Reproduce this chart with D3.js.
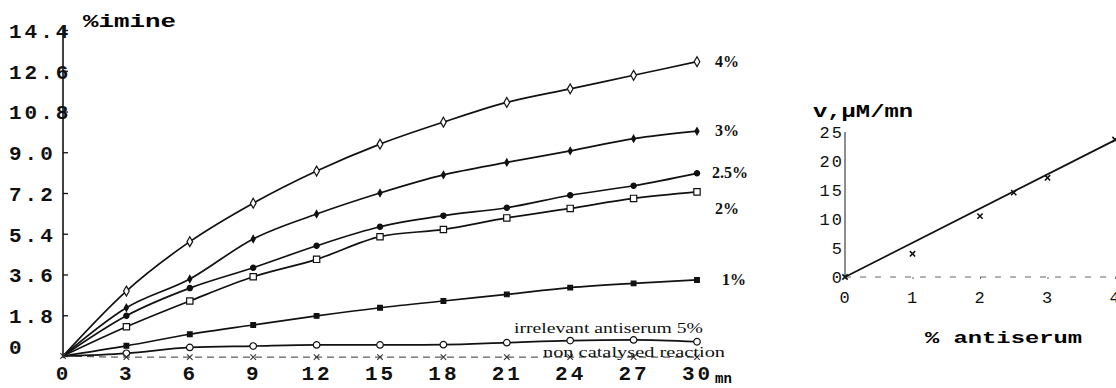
<!DOCTYPE html>
<meta charset="utf-8">
<style>
body { margin: 0; background: #fff; }
svg { display: block; }
.tickL text { font-family: "Liberation Mono", monospace; font-weight: bold; font-size: 21px; letter-spacing: 3px; fill: #111; }
.tickR text { font-family: "Liberation Mono", monospace; font-size: 17px; letter-spacing: 2px; fill: #111; }
.serieslab { font-family: "Liberation Serif", serif; font-weight: bold; font-size: 16px; fill: #111; }
.note { font-family: "Liberation Serif", serif; font-size: 15px; fill: #111; }
</style>
<body>
<script src="https://cdn.jsdelivr.net/npm/d3@7"></script>
<script>

// ---- data (left panel: % imine vs time) ----
var time = [0, 3, 6, 9, 12, 15, 18, 21, 24, 27, 30];
var p4   = [0, 2.87, 5.05, 6.75, 8.17, 9.36, 10.33, 11.2, 11.8, 12.4, 13.0];
var p3   = [0, 2.13, 3.4, 5.17, 6.27, 7.2, 8.0, 8.55, 9.06, 9.6, 9.93];
var p25  = [0, 1.78, 3.0, 3.9, 4.87, 5.71, 6.2, 6.55, 7.1, 7.52, 8.07];
var p2   = [0, 1.29, 2.43, 3.5, 4.27, 5.27, 5.59, 6.1, 6.52, 6.96, 7.25];
var p1   = [0, 0.45, 0.96, 1.37, 1.77, 2.13, 2.43, 2.72, 3.02, 3.21, 3.36];
var irrelevant = [0, 0.12, 0.38, 0.44, 0.49, 0.49, 0.5, 0.59, 0.68, 0.71, 0.63];
var nonCatalysed = [0, -0.05, -0.05, -0.05, -0.05, -0.05, -0.05, -0.05, -0.05, -0.05, -0.05];
var yTicksLeft = [0, 1.8, 3.6, 5.4, 7.2, 9.0, 10.8, 12.6, 14.4];
var xTicksLeft = [0, 3, 6, 9, 12, 15, 18, 21, 24, 27, 30];
var seriesLabels = ["4%", "3%", "2.5%", "2%", "1%"];
var labelLevels  = [13.0, 9.93, 8.07, 6.5, 3.36];

// ---- data (right panel: rate vs % antiserum) ----
var antiserum = [0, 1, 2, 2.5, 3, 4];
var rate      = [0, 4.0, 10.5, 14.55, 17.1, 23.7];
var fitX = [0, 4];
var fitY = [0, 23.6];
var yTicksRight = [0, 5, 10, 15, 20, 25];
var xTicksRight = [0, 1, 2, 3, 4];

var svg = d3.select("body").append("svg")
    .attr("width", 1116)
    .attr("height", 388);

// ---------- left panel ----------
var x = d3.scaleLinear().domain([0, 30]).range([63, 697]);
var y = d3.scaleLinear().domain([0, 14.4]).range([356, 30]);

// y axis
var gy = svg.append("g")
    .attr("class", "tickL")
    .attr("transform", "translate(63,0)")
    .call(d3.axisLeft(y).tickValues(yTicksLeft).tickSize(-5).tickFormat(d3.format(".1f")));
gy.select(".domain").attr("d", "M0,27V358").attr("stroke", "#111").attr("stroke-width", 1.6);
gy.selectAll(".tick line").attr("stroke", "#111").attr("stroke-width", 1.3);
gy.selectAll(".tick text")
    .attr("text-anchor", "start")
    .attr("x", -54)
    .attr("dy", function(d) { return d === 0 ? "-0.1em" : "0.35em"; })
    .text(function(d) { return d === 0 ? "0" : d3.format(".1f")(d); });

// x tick labels (no solid x axis line in the original)
var gx = svg.append("g")
    .attr("class", "tickL")
    .attr("transform", "translate(0,368)")
    .call(d3.axisBottom(x).tickValues(xTicksLeft).tickSize(0).tickFormat(d3.format("d")));
gx.select(".domain").remove();
gx.selectAll(".tick text").attr("dy", "0.45em").attr("font-size", "19px").attr("letter-spacing", "1px");

svg.append("text")
    .attr("x", x(30) + 18).attr("y", 383)
    .attr("font-family", "Liberation Mono, monospace")
    .attr("font-weight", "bold").attr("font-size", "14px")
    .text("mn");

svg.append("text")
    .attr("x", 83).attr("y", 27)
    .attr("font-family", "Liberation Mono, monospace")
    .attr("font-weight", "bold").attr("font-size", "18px")
    .attr("textLength", 93).attr("lengthAdjust", "spacingAndGlyphs")
    .text("%imine");

var line = d3.line()
    .x(function(d) { return x(d[0]); })
    .y(function(d) { return y(d[1]); })
    .curve(d3.curveMonotoneX);

var series = [
  { values: p4,  marker: d3.symbolDiamond, size: 28, fill: "#fff" },
  { values: p3,  marker: d3.symbolDiamond, size: 14, fill: "#111" },
  { values: p25, marker: d3.symbolCircle,  size: 22, fill: "#111" },
  { values: p2,  marker: d3.symbolSquare,  size: 40, fill: "#fff" },
  { values: p1,  marker: d3.symbolSquare,  size: 22, fill: "#111" },
  { values: irrelevant, marker: d3.symbolCircle, size: 34, fill: "#fff" }
];

series.forEach(function(s) {
  var pts = time.map(function(t, i) { return [t, s.values[i]]; });
  svg.append("path")
      .datum(pts)
      .attr("fill", "none")
      .attr("stroke", "#111")
      .attr("stroke-width", 1.7)
      .attr("d", line);
  svg.selectAll(null)
      .data(pts.slice(1))
      .enter().append("path")
      .attr("transform", function(d) { return "translate(" + x(d[0]) + "," + y(d[1]) + ")"; })
      .attr("d", d3.symbol().type(s.marker).size(s.size))
      .attr("fill", s.fill)
      .attr("stroke", "#111")
      .attr("stroke-width", 1.2);
});

// non catalysed reaction: dashed with x marks
var ncPts = time.map(function(t, i) { return [t, nonCatalysed[i]]; });
svg.append("path")
    .datum(ncPts)
    .attr("fill", "none")
    .attr("stroke", "#333")
    .attr("stroke-width", 1)
    .attr("stroke-dasharray", "7,5")
    .attr("d", line);
svg.selectAll(null)
    .data(ncPts)
    .enter().append("path")
    .attr("transform", function(d) { return "translate(" + x(d[0]) + "," + y(d[1]) + ")"; })
    .attr("d", d3.symbol().type(d3.symbolX).size(22))
    .attr("fill", "none")
    .attr("stroke", "#333")
    .attr("stroke-width", 1.1);

// series labels
svg.selectAll(".serieslab")
    .data(seriesLabels)
    .enter().append("text")
    .attr("class", "serieslab")
    .attr("x", function(d) { return d === "2.5%" ? 712 : (d === "1%" ? 722 : 715); })
    .attr("y", function(d, i) { return y(labelLevels[i]) + 5; })
    .text(function(d) { return d; });

svg.append("text")
    .attr("class", "note")
    .attr("x", 514).attr("y", 333)
    .attr("textLength", 189).attr("lengthAdjust", "spacingAndGlyphs")
    .text("irrelevant antiserum 5%");

svg.append("text")
    .attr("class", "note")
    .attr("x", 543).attr("y", 357)
    .attr("textLength", 182).attr("lengthAdjust", "spacingAndGlyphs")
    .text("non catalysed  reaction");

// ---------- right panel ----------
var x2 = d3.scaleLinear().domain([0, 4]).range([845, 1115]);
var y2 = d3.scaleLinear().domain([0, 25]).range([277, 132]);

var gy2 = svg.append("g")
    .attr("class", "tickR")
    .attr("transform", "translate(845,0)")
    .call(d3.axisLeft(y2).tickValues(yTicksRight).tickSize(0).tickPadding(1));
gy2.select(".domain").attr("d", "M0,132V278").attr("stroke", "#444").attr("stroke-width", 1.2);

var gx2 = svg.append("g")
    .attr("class", "tickR")
    .attr("transform", "translate(0,277)")
    .call(d3.axisBottom(x2).tickValues(xTicksRight).tickSize(2).tickPadding(12).tickFormat(d3.format("d")));
gx2.select(".domain")
    .attr("d", "M845,0H1116")
    .attr("stroke", "#666")
    .attr("stroke-width", 1)
    .attr("stroke-dasharray", "6,9");
gx2.selectAll(".tick line").attr("stroke", "#666");
gx2.selectAll(".tick text").attr("font-size", "15px");

svg.append("text")
    .attr("x", 813).attr("y", 117)
    .attr("font-family", "Liberation Mono, monospace")
    .attr("font-weight", "bold").attr("font-size", "19px")
    .attr("textLength", 100).attr("lengthAdjust", "spacingAndGlyphs")
    .text("v,\u00b5M/mn");

svg.append("text")
    .attr("x", 925).attr("y", 343)
    .attr("font-family", "Liberation Mono, monospace")
    .attr("font-weight", "bold").attr("font-size", "17px")
    .attr("textLength", 157).attr("lengthAdjust", "spacingAndGlyphs")
    .text("% antiserum");

svg.append("path")
    .datum(fitX.map(function(v, i) { return [v, fitY[i]]; }))
    .attr("fill", "none")
    .attr("stroke", "#111")
    .attr("stroke-width", 1.7)
    .attr("d", d3.line().x(function(d) { return x2(d[0]); }).y(function(d) { return y2(d[1]); }));

svg.selectAll(null)
    .data(antiserum.map(function(v, i) { return [v, rate[i]]; }))
    .enter().append("path")
    .attr("transform", function(d) { return "translate(" + x2(d[0]) + "," + y2(d[1]) + ")"; })
    .attr("d", d3.symbol().type(d3.symbolX).size(20))
    .attr("fill", "none")
    .attr("stroke", "#111")
    .attr("stroke-width", 1.6);

</script>
</body>
